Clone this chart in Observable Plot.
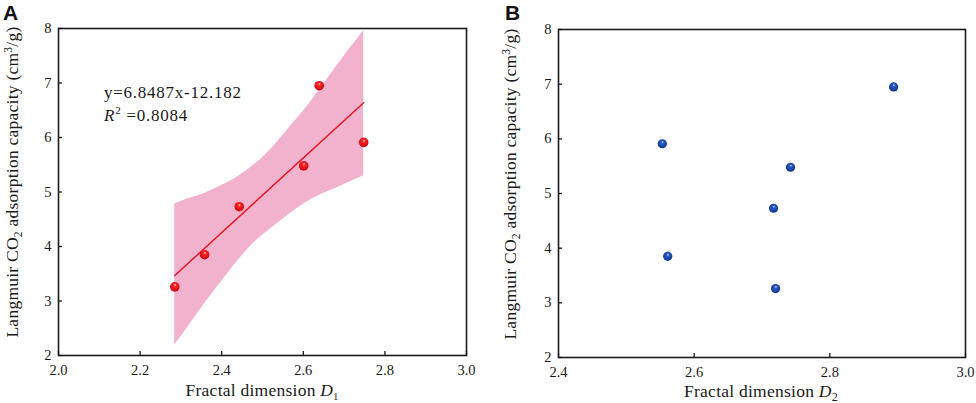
<!DOCTYPE html>
<html>
<head>
<meta charset="utf-8">
<script src="https://cdn.jsdelivr.net/npm/d3@7"></script>
<script src="https://cdn.jsdelivr.net/npm/@observablehq/plot@0.6"></script>
<style>
  html, body { margin: 0; padding: 0; background: #fff; }
  #wrap { display: flex; width: 976px; height: 403px; }
  #wrap svg { display: block; }
  #wrap svg text { font-family: 'Liberation Serif', 'Times New Roman', serif; }
</style>
</head>
<body>
<div id="wrap"></div>
<script>
// ---- data ----
const capacity = [3.26, 3.85, 4.73, 5.48, 6.95, 5.91];       // Langmuir CO2 adsorption capacity (cm3/g)
const fractalD1 = [2.285, 2.358, 2.443, 2.601, 2.639, 2.748]; // panel A
const fractalD2 = [2.720, 2.561, 2.717, 2.742, 2.894, 2.553]; // panel B

const fitSlope = 6.8487;
const fitIntercept = -12.182;
const fitR2 = "0.8084";

// confidence band around the fit (panel A)
const bandX     = [2.285, 2.315, 2.356, 2.397, 2.4375, 2.478, 2.519, 2.560, 2.601, 2.642, 2.683, 2.715, 2.748];
const bandUpper = [4.78, 4.87, 4.97, 5.11, 5.27, 5.49, 5.77, 6.13, 6.49, 6.90, 7.32, 7.64, 7.96];
const bandLower = [2.19, 2.50, 2.93, 3.33, 3.72, 4.06, 4.32, 4.56, 4.78, 4.95, 5.08, 5.19, 5.30];

const xTicksA = [2.0, 2.2, 2.4, 2.6, 2.8, 3.0];
const xTicksB = [2.4, 2.6, 2.8, 3.0];
const yTicks = [2, 3, 4, 5, 6, 7, 8];

// ---- tables ----
const ptsA = capacity.map((y, i) => ({x: fractalD1[i], y}));
const ptsB = capacity.map((y, i) => ({x: fractalD2[i], y}));
const band = bandX.map((x, i) => ({x, y1: bandLower[i], y2: bandUpper[i]}));
const fitLine = d3.extent(fractalD1).map(x => ({x, y: fitSlope * x + fitIntercept}));

const SERIF = "'Liberation Serif', 'Times New Roman', serif";
const SANS = "'Liberation Sans', Arial, sans-serif";

function axes(xTicks, xFmt) {
  return [
    Plot.axisX(xTicks, {tickSize: 0, tickPadding: 9, tickFormat: xFmt, label: null, fontSize: 14.5}),
    Plot.axisX(xTicks, {tickSize: 4, dy: -4, text: null, label: null, strokeWidth: 1.3}),
    Plot.axisY(yTicks, {tickSize: 0, tickPadding: 7, tickFormat: d3.format("d"), label: null, fontSize: 14.5}),
    Plot.axisY(yTicks, {tickSize: 4, dx: 4, text: null, label: null, strokeWidth: 1.3}),
    Plot.frame({stroke: "#1a1a1a", strokeWidth: 1.6})
  ];
}

function addGradient(svg, id, light, mid, dark) {
  const defs = d3.select(svg).insert("defs", ":first-child");
  const g = defs.append("radialGradient").attr("id", id)
    .attr("cx", "45%").attr("cy", "45%").attr("r", "60%")
    .attr("fx", "55%").attr("fy", "30%");
  g.append("stop").attr("offset", "0%").attr("stop-color", light);
  g.append("stop").attr("offset", "22%").attr("stop-color", mid);
  g.append("stop").attr("offset", "100%").attr("stop-color", dark);
}

function yLabel(svg, x, y) {
  const t = d3.select(svg).append("text")
    .attr("transform", `translate(${x},${y}) rotate(-90)`)
    .attr("text-anchor", "middle")
    .style("font-family", SERIF).style("font-size", "17.5px")
    .style("letter-spacing", "0.25px").attr("fill", "#1a1a1a");
  t.append("tspan").text("Langmuir CO");
  t.append("tspan").attr("dy", 4).style("font-size", "11.5px").text("2");
  t.append("tspan").attr("dy", -4).text(" adsorption capacity (cm");
  t.append("tspan").attr("dy", -6).style("font-size", "11.5px").text("3");
  t.append("tspan").attr("dy", 6).text("/g)");
}

function xLabel(svg, x, y, sub) {
  const t = d3.select(svg).append("text")
    .attr("x", x).attr("y", y).attr("text-anchor", "middle")
    .style("font-family", SERIF).style("font-size", "17.5px")
    .style("letter-spacing", "0.25px").attr("fill", "#1a1a1a");
  t.append("tspan").text("Fractal dimension ");
  t.append("tspan").style("font-style", "italic").text("D");
  t.append("tspan").attr("dy", 4).style("font-size", sub === "1" ? "10px" : "12px").text(sub);
}

function panelLetter(svg, letter, x) {
  d3.select(svg).append("text").attr("x", x).attr("y", 19.5)
    .attr("text-anchor", "start")
    .style("font-family", SANS).style("font-weight", "bold").style("font-size", "21px")
    .attr("fill", "#111").text(letter);
}

// ---- Panel A ----
const chartA = Plot.plot({
  width: 488, height: 403,
  marginLeft: 58, marginRight: 22, marginTop: 28, marginBottom: 48,
  style: {fontFamily: SERIF, fontSize: "14.5px", background: "#fff", color: "#1a1a1a", overflow: "visible"},
  x: {domain: [2.0, 3.0]},
  y: {domain: [2, 8]},
  marks: [
    Plot.areaY(band, {x: "x", y1: "y1", y2: "y2", fill: "#f2b2ce", curve: "monotone-x"}),
    Plot.line(fitLine, {x: "x", y: "y", stroke: "#e8141c", strokeWidth: 1.4}),
    Plot.dot(ptsA, {x: "x", y: "y", r: 4.8, fill: "url(#redBall)", stroke: "none"}),
    ...axes(xTicksA, d3.format(".1f"))
  ]
});
addGradient(chartA, "redBall", "#ffffff", "#ff2a2a", "#c40008");
yLabel(chartA, 18, 182);
xLabel(chartA, 262, 396, "1");
panelLetter(chartA, "A", 3);
{
  d3.select(chartA).append("text").attr("x", 104).attr("y", 97.5)
    .attr("text-anchor", "start")
    .style("font-family", SERIF).style("font-size", "17px").style("letter-spacing", "0.75px")
    .attr("fill", "#1a1a1a")
    .text(`y=${fitSlope}x${fitIntercept}`);
  const r2 = d3.select(chartA).append("text").attr("x", 104).attr("y", 120.5)
    .attr("text-anchor", "start")
    .style("font-family", SERIF).style("font-size", "17px").style("letter-spacing", "0.75px")
    .attr("fill", "#1a1a1a");
  r2.append("tspan").style("font-style", "italic").text("R");
  r2.append("tspan").attr("dy", -7).style("font-size", "11px").text("2");
  r2.append("tspan").attr("dy", 7).text(" =" + fitR2);
}

// ---- Panel B ----
const chartB = Plot.plot({
  width: 488, height: 403,
  marginLeft: 70, marginRight: 11, marginTop: 29, marginBottom: 46,
  style: {fontFamily: SERIF, fontSize: "14.5px", background: "#fff", color: "#1a1a1a", overflow: "visible"},
  x: {domain: [2.4, 3.0]},
  y: {domain: [2, 8]},
  marks: [
    Plot.dot(ptsB, {x: "x", y: "y", r: 4.6, fill: "url(#blueBall)", stroke: "none"}),
    ...axes(xTicksB, d3.format(".1f"))
  ]
});
addGradient(chartB, "blueBall", "#ffffff", "#2a5cc8", "#0d2f86");
yLabel(chartB, 28, 184);
xLabel(chartB, 273, 397, "2");
panelLetter(chartB, "B", 17);

document.getElementById("wrap").append(chartA, chartB);
</script>
</body>
</html>
